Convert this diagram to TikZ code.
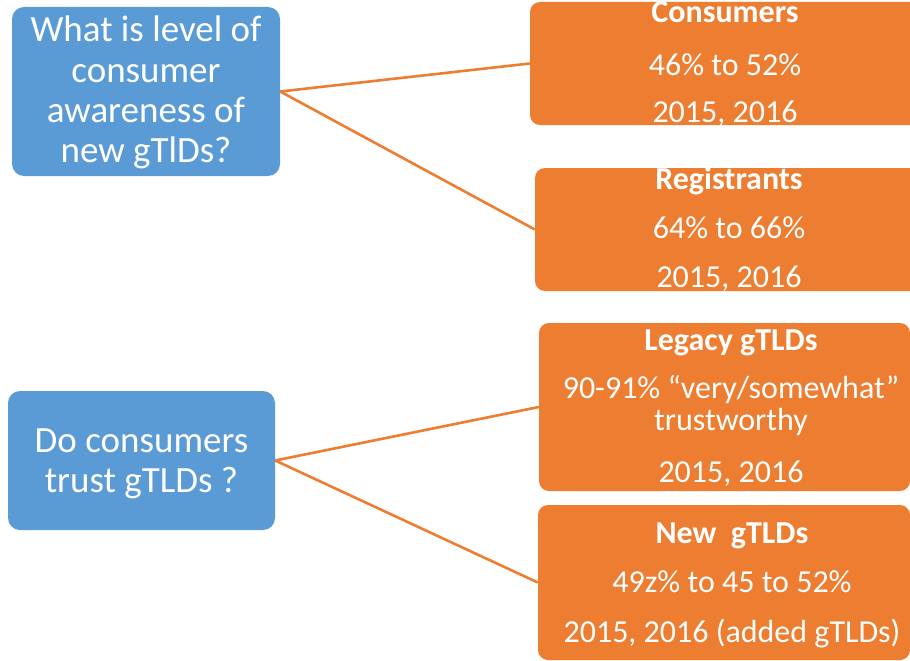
\documentclass[tikz,border=0pt]{standalone}
\usepackage{fontspec}
\setmainfont{Carlito}
\definecolor{qblue}{HTML}{5B9BD5}
\definecolor{aorange}{HTML}{ED7D31}
\tikzset{
  qbox/.style={rounded corners=12pt, fill=qblue, inner sep=0pt},
  abox/.style={rounded corners=10pt, fill=aorange, inner sep=0pt},
  qtext/.style={anchor=base, text=white, inner sep=0pt, font=\fontsize{37}{40}\selectfont},
  atext/.style={anchor=base, text=white, inner sep=0pt, font=\fontsize{32}{38}\selectfont},
  ahead/.style={atext, font=\fontsize{32}{38}\selectfont\bfseries},
  conn/.style={draw=aorange, line width=2.6pt}
}
\begin{document}
\begin{tikzpicture}[x=1pt, y=-1pt]
\clip (0,0) rectangle (910,661);
\fill[white] (0,0) rectangle (910,661);
% question boxes
\node[qbox, minimum width=268pt, minimum height=169pt] (q1) at (146,91.5) {};
\node[qbox, minimum width=267pt, minimum height=139pt] (q2) at (141.5,460.5) {};
% answer boxes
\node[abox, minimum width=400pt, minimum height=123pt] (c1) at (730,63.5) {};
\node[abox, minimum width=395pt, minimum height=123pt] (c2) at (732.5,229.5) {};
\node[abox, minimum width=371pt, minimum height=168pt] (c3) at (724.5,407) {};
\node[abox, minimum width=372pt, minimum height=155pt] (c4) at (724,582.5) {};
% connectors
\draw[conn] (q1.east) -- (c1.west);
\draw[conn] (q1.east) -- (c2.west);
\draw[conn] (q2.east) -- (c3.west);
\draw[conn] (q2.east) -- (c4.west);
% question texts
\node[qtext] (q1a) at (146,42) {What is level of};
\node[qtext] (q1b) at (146,82) {consumer};
\node[qtext] (q1c) at (146,122) {awareness of};
\node[qtext] (q1d) at (146,162) {new gTlDs?};
\node[qtext] (q2a) at (141.5,452) {Do consumers};
\node[qtext] (q2b) at (141.5,492) {trust gTLDs ?};
% answer texts
\node[ahead] (c1a) at (725,23) {Consumers};
\node[atext] (c1b) at (725,75) {46\% to 52\%};
\node[atext] (c1c) at (725,122) {2015, 2016};
\node[ahead] (c2a) at (729,189) {Registrants};
\node[atext] (c2b) at (729,238) {64\% to 66\%};
\node[atext] (c2c) at (729,287) {2015, 2016};
\node[ahead] (c3a) at (731,350) {Legacy gTLDs};
\node[atext] (c3b) at (731,398) {90-91\% “very/somewhat”};
\node[atext] (c3c) at (731,430) {trustworthy};
\node[atext] (c3d) at (731,482) {2015, 2016};
\node[ahead] (c4a) at (732,543) {New\ \ gTLDs};
\node[atext] (c4b) at (732,592) {49z\% to 45 to 52\%};
\node[atext] (c4c) at (732,642) {2015, 2016 (added gTLDs)};
\end{tikzpicture}
\end{document}
